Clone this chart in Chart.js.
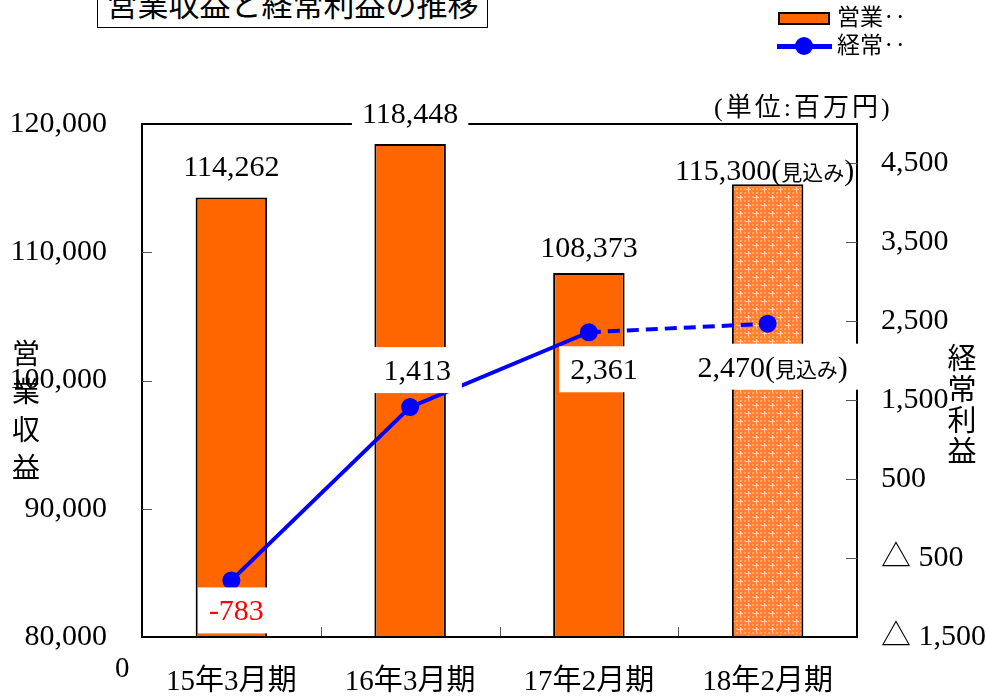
<!DOCTYPE html>
<html><head><meta charset="utf-8">
<script src="https://cdn.jsdelivr.net/npm/chart.js@4/dist/chart.umd.min.js"></script>
<style>
html,body{margin:0;padding:0;background:#fff;overflow:hidden;}
#wrap{position:relative;width:986px;height:696px;overflow:hidden;}
canvas{position:absolute;left:0;top:0;}
.t{position:absolute;white-space:nowrap;color:#000;font-family:"Liberation Serif","Noto Sans CJK JP",serif;}
#title{left:97px;top:-20px;width:391px;height:48px;box-sizing:border-box;border:1px solid #000;padding-top:6px;line-height:31px;font-size:31px;text-align:center;font-family:"Noto Sans CJK JP",sans-serif;background:#fff;}
.lg{font-size:23px;line-height:24px;left:837px;}
#unit{left:714px;top:93px;font-size:26px;line-height:30px;letter-spacing:3px;}
.vt{font-size:28px;text-align:center;width:32px;}
</style></head><body>
<div id="wrap">
<canvas id="c" width="986" height="696"></canvas>
<div class="t" id="title">営業収益と経常利益の推移</div>
<div style="position:absolute;left:778px;top:12px;width:52px;height:13px;box-sizing:border-box;background:#FF6600;border:2px solid #000;"></div>
<div class="t lg" style="top:6px;">営業‥</div>
<div style="position:absolute;left:777px;top:44px;width:55px;height:5px;background:#0000FF;"></div>
<div style="position:absolute;left:795px;top:37px;width:18px;height:18px;border-radius:50%;background:#0000FF;"></div>
<div class="t lg" style="top:34px;">経常‥</div>
<div class="t" id="unit">(単位:百万円)</div>
<div class="t vt" style="left:10px;top:336px;line-height:38px;">営<br>業<br>収<br>益</div>
<div class="t vt" style="left:946px;top:344px;line-height:31px;font-size:29px;">経<br>常<br>利<br>益</div>
<div class="t" style="left:115px;top:652px;font-size:29px;line-height:30px;">0</div>
</div>
<script>
// ---- data ----
const categories = ['15年3月期', '16年3月期', '17年2月期', '18年2月期'];
const revenue = [114262, 118448, 108373, 115300];          // 営業収益 (left axis)
const ordinaryProfit = [-783, 1413, 2361, 2470];           // 経常利益 (right axis)
const isForecast = [false, false, false, true];            // 見込み
const leftTicks = [80000, 90000, 100000, 110000, 120000];
const rightTicks = [-1500, -500, 500, 1500, 2500, 3500, 4500];
const forecastNote = '見込み';

// ---- styles ----
const SERIF = '"Liberation Serif","Noto Sans CJK JP",serif';
const NUM_FONT = '30px ' + SERIF;
const NOTE_FONT = '21px "Noto Sans CJK JP",' + SERIF;
const barLabelOffset = [[0, -32], [0, -31], [0, -26], [-3, -14]];
const barLabelBox = [false, true, false, false];
const lineLabelOffset = [[5, 30], [7, -37], [15, 37], [5, 43]];

function fmt(v) { return v.toLocaleString('en-US'); }

function makePattern() {
  const p = document.createElement('canvas'); p.width = 16; p.height = 16;
  const g = p.getContext('2d');
  g.fillStyle = '#FF8030'; g.fillRect(0, 0, 16, 16);
  g.fillStyle = '#FFA868';
  for (let y = 0; y < 16; y += 4) for (let x = 0; x < 16; x += 4) g.fillRect(x, y, 2, 2);
  g.fillStyle = '#FFD4B4';
  [[4, 5], [12, 13]].forEach(([cx, cy]) => {
    g.fillRect(cx - 2, cy, 5, 1); g.fillRect(cx, cy - 2, 1, 5);
  });
  return g.createPattern(p, 'repeat');
}

const ctx0 = document.getElementById('c').getContext('2d');
const forecastPattern = makePattern();
const barColors = isForecast.map(f => f ? forecastPattern : '#FF6600');

function partsFor(text, forecast) {
  const parts = [{ t: text, f: NUM_FONT }];
  if (forecast) parts.push({ t: '(', f: NUM_FONT }, { t: forecastNote, f: NOTE_FONT }, { t: ')', f: NUM_FONT });
  return parts;
}
function drawParts(ctx, parts, cx, cy, color, box, padX, boxH) {
  let w = 0;
  parts.forEach(p => { ctx.font = p.f; p.w = ctx.measureText(p.t).width; w += p.w; });
  if (box) { ctx.fillStyle = '#fff'; ctx.fillRect(cx - w / 2 - padX, cy - boxH / 2, w + 2 * padX, boxH); }
  ctx.fillStyle = color; ctx.textAlign = 'left'; ctx.textBaseline = 'alphabetic';
  let x = cx - w / 2;
  parts.forEach(p => { ctx.font = p.f; ctx.fillText(p.t, x, cy + 10); x += p.w; });
}

const framePlugin = {
  id: 'frame',
  beforeDatasetsDraw(chart) {
    const { ctx, chartArea: a } = chart;
    ctx.save();
    ctx.strokeStyle = '#000'; ctx.lineWidth = 2;
    ctx.beginPath(); ctx.moveTo(a.left - 1, a.top); ctx.lineTo(a.right + 1, a.top); ctx.stroke();
    ctx.strokeStyle = '#555'; ctx.lineWidth = 1;
    const y = chart.scales.y, y1 = chart.scales.y1, x = chart.scales.x;
    y.ticks.forEach(t => {
      if (t.value > y.min && t.value < y.max) {
        const py = Math.round(y.getPixelForValue(t.value)) + 0.5;
        ctx.beginPath(); ctx.moveTo(a.left, py); ctx.lineTo(a.left + 10, py); ctx.stroke();
      }
    });
    y1.ticks.forEach(t => {
      if (t.value > y1.min && t.value < y1.max) {
        const py = Math.round(y1.getPixelForValue(t.value)) + 0.5;
        ctx.beginPath(); ctx.moveTo(a.right - 11, py); ctx.lineTo(a.right, py); ctx.stroke();
      }
    });
    for (let i = 1; i < categories.length; i++) {
      const px = Math.round((x.getPixelForValue(i - 1) + x.getPixelForValue(i)) / 2) + 0.5;
      ctx.beginPath(); ctx.moveTo(px, a.bottom); ctx.lineTo(px, a.bottom - 10); ctx.stroke();
    }
    ctx.restore();
  },
  afterDatasetsDraw(chart) {
    const { ctx, chartArea: a } = chart;
    ctx.save();
    ctx.strokeStyle = '#000'; ctx.lineWidth = 2;
    ctx.beginPath(); ctx.moveTo(a.left - 1, a.bottom); ctx.lineTo(a.right + 1, a.bottom); ctx.stroke();
    // bar labels
    const barMeta = chart.getDatasetMeta(1);
    barMeta.data.forEach((el, i) => {
      const [dx, dy] = barLabelOffset[i];
      drawParts(ctx, partsFor(fmt(revenue[i]), isForecast[i]), el.x + dx, el.y + dy, '#000', barLabelBox[i], 10, 28);
    });
    // line labels
    const lineMeta = chart.getDatasetMeta(0);
    lineMeta.data.forEach((el, i) => {
      const [dx, dy] = lineLabelOffset[i];
      const v = ordinaryProfit[i];
      drawParts(ctx, partsFor(fmt(v), isForecast[i]), el.x + dx, el.y + dy, v < 0 ? '#FF0000' : '#000', true, 11, 46);
    });
    ctx.restore();
  }
};

new Chart(ctx0, {
  data: {
    labels: categories,
    datasets: [
      {
        type: 'line', label: '経常利益', data: ordinaryProfit, yAxisID: 'y1', order: 0,
        borderColor: '#0000FF', borderWidth: 4, backgroundColor: '#0000FF',
        pointRadius: 9, pointBorderWidth: 0, pointBackgroundColor: '#0000FF', tension: 0,
        segment: { borderDash: c => isForecast[c.p1DataIndex] ? [12, 7] : [] }
      },
      {
        type: 'bar', label: '営業収益', data: revenue, yAxisID: 'y', order: 1,
        backgroundColor: barColors, borderColor: '#000', borderWidth: 2,
        barPercentage: 0.4, categoryPercentage: 1.0
      }
    ]
  },
  options: {
    responsive: false, animation: false, devicePixelRatio: 1,
    layout: { padding: { top: 124, left: 0, right: 0, bottom: 0 } },
    plugins: { legend: { display: false }, tooltip: { enabled: false } },
    scales: {
      x: {
        type: 'category', offset: true,
        grid: { display: false, drawTicks: false },
        border: { display: true, color: '#000', width: 2 },
        ticks: { color: '#000', font: { size: 29, family: SERIF }, padding: 28, maxRotation: 0, autoSkip: false },
        afterFit: s => { s.height = 59; }
      },
      y: {
        position: 'left', min: 80000, max: 120000,
        afterBuildTicks: s => { s.ticks = leftTicks.map(v => ({ value: v })); },
        grid: { display: false, drawTicks: false },
        border: { display: true, color: '#000', width: 2 },
        ticks: { color: '#000', font: { size: 30, family: SERIF }, padding: 35, callback: v => fmt(v) },
        afterFit: s => { s.width = 142; }
      },
      y1: {
        position: 'right', min: -1500, max: 5000,
        afterBuildTicks: s => { s.ticks = rightTicks.map(v => ({ value: v })); },
        grid: { display: false, drawTicks: false },
        border: { display: true, color: '#000', width: 2 },
        ticks: { color: '#000', font: { size: 30, family: SERIF }, padding: 24,
          callback: v => v < 0 ? '△ ' + fmt(Math.abs(v)) : fmt(v) },
        afterFit: s => { s.width = 129; }
      }
    }
  },
  plugins: [framePlugin]
});
</script>
</body></html>
